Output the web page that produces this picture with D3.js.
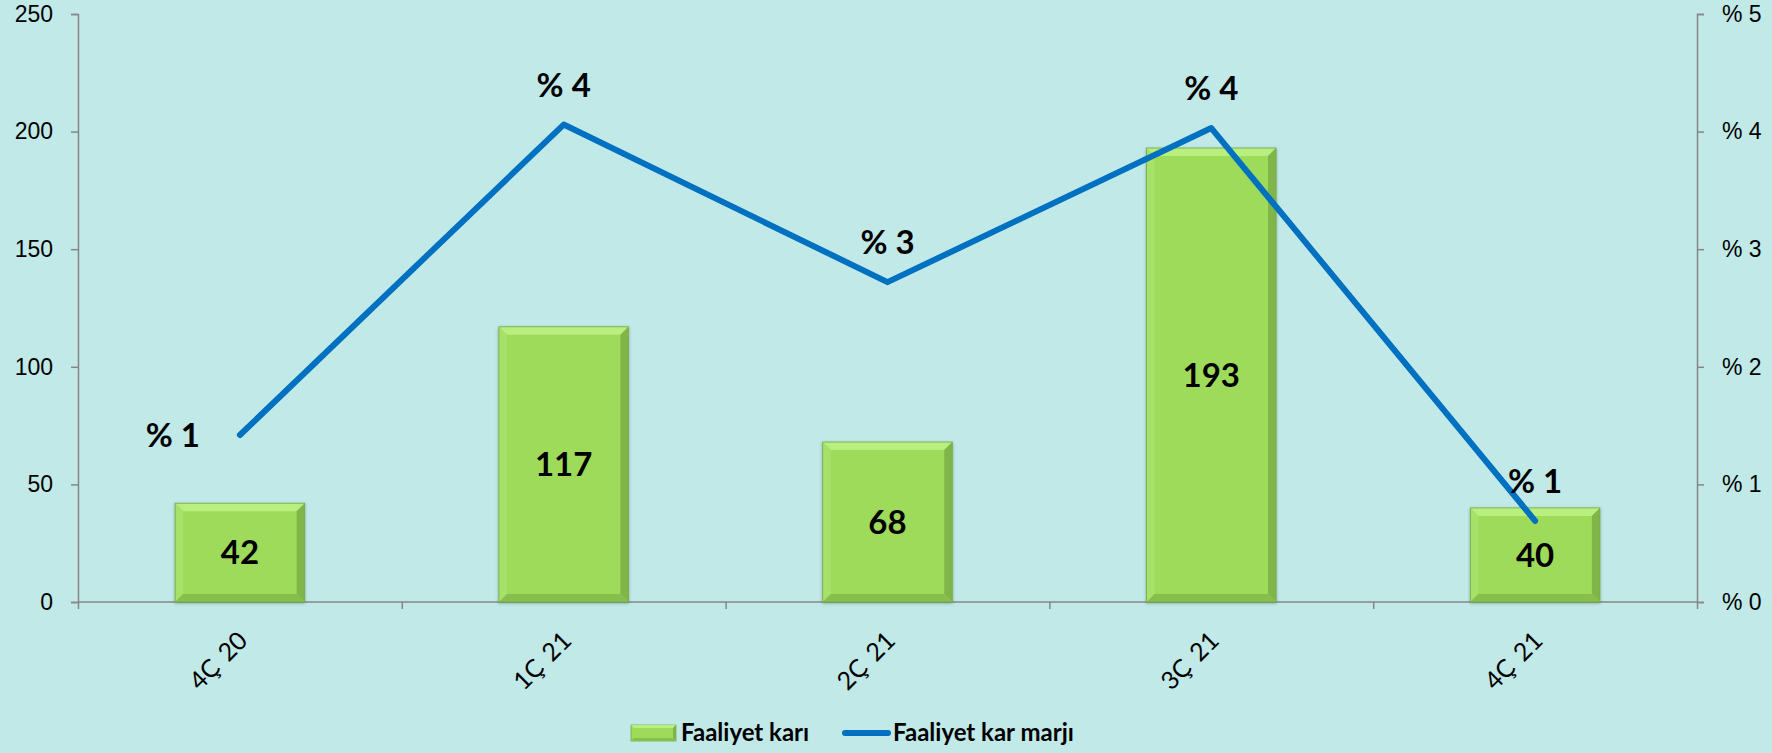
<!DOCTYPE html>
<html>
<head>
<meta charset="utf-8">
<script src="https://cdn.jsdelivr.net/npm/d3@7"></script>
<style>
  html, body { margin: 0; padding: 0; background: #c0e9e8; }
  svg { display: block; font-family: Lato, "Open Sans", sans-serif; }
  .axis path, .axis line { stroke: #868686; stroke-width: 1.5; }
  .axis text { font-size: 23px; fill: #000; }
  .bar-label, .line-label { font-weight: bold; font-size: 33px; fill: #000; }
  .legend text { font-weight: bold; font-size: 24px; fill: #000; }
</style>
</head>
<body>
<svg id="chart" width="1772" height="753"></svg>
<script>
// data
const categories = ["4Ç 20", "1Ç 21", "2Ç 21", "3Ç 21", "4Ç 21"];
const faaliyetKari = [42, 117, 68, 193, 40];
const karMarji = [1.42, 4.06, 2.72, 4.03, 0.69];
const leftTicks = [0, 50, 100, 150, 200, 250];
const rightTicks = [0, 1, 2, 3, 4, 5];
const seriesNames = ["Faaliyet karı", "Faaliyet kar marjı"];

const svg = d3.select("#chart");
const margin = {top: 14, right: 75, left: 78, bottom: 151};
const width = 1772 - margin.left - margin.right;
const height = 753 - margin.top - margin.bottom;
const g = svg.append("g")
    .attr("transform", `translate(${margin.left}, ${margin.top})`);

// scales
const x = d3.scaleBand()
    .domain(categories)
    .range([0, width])
    .paddingInner(0.6)
    .paddingOuter(0.3);
const xEdges = d3.scaleLinear().domain([0, categories.length]).range([0, width]);
const y = d3.scaleLinear().domain([0, 250]).range([height, 0]);
const y2 = d3.scaleLinear().domain([0, 5]).range([height, 0]);

// left axis
const yAxisG = g.append("g").attr("class", "axis")
    .call(d3.axisLeft(y).tickValues(leftTicks).tickSize(7).tickSizeOuter(7).tickPadding(18));
// right axis
const y2AxisG = g.append("g").attr("class", "axis")
    .attr("transform", `translate(${width}, 0)`)
    .call(d3.axisRight(y2).tickValues(rightTicks).tickSize(7).tickSizeOuter(7).tickPadding(18)
        .tickFormat(d => "% " + d));
// x axis, ticks between categories
const xAxisG = g.append("g").attr("class", "axis")
    .attr("transform", `translate(0, ${height})`)
    .call(d3.axisBottom(xEdges).tickValues(d3.range(categories.length + 1)).tickSize(7)
        .tickSizeOuter(0).tickFormat(""));
xAxisG.select(".domain").attr("d", `M0,0H${width}`);

// category labels, rotated
g.append("g").selectAll("text").data(categories)
    .enter().append("text")
    .attr("class", "axis-label")
    .attr("transform", d => `translate(${x(d) + x.bandwidth() / 2 + 3}, ${height + 34}) rotate(-45)`)
    .attr("text-anchor", "end")
    .attr("dy", "0.35em")
    .style("font-size", "25px")
    .style("word-spacing", "3px")
    .text(d => d);

// bars with bevel
const defs = svg.append("defs");
defs.append("filter").attr("id", "shadow")
    .attr("x", "-10%").attr("y", "-10%").attr("width", "120%").attr("height", "120%")
    .append("feDropShadow")
    .attr("dx", 0).attr("dy", 1).attr("stdDeviation", 1.5)
    .attr("flood-color", "#3a5a30").attr("flood-opacity", 0.45);

const bev = 8;
const bars = g.append("g").selectAll("g").data(categories)
    .enter().append("g")
    .attr("filter", "url(#shadow)");
bars.each(function(d, i) {
    const b = d3.select(this);
    const x0 = x(d), x1 = x(d) + x.bandwidth();
    const y0 = y(faaliyetKari[i]), y1 = y(0);
    b.append("rect")
        .attr("x", x0).attr("y", y0)
        .attr("width", x1 - x0).attr("height", y1 - y0)
        .attr("fill", "#9edb5a");
    // top
    b.append("polygon").attr("fill", "#b9ef7f")
        .attr("points", [[x0, y0], [x1, y0], [x1 - bev, y0 + bev], [x0 + bev, y0 + bev]].join(" "));
    // left
    b.append("polygon").attr("fill", "#a6e26a")
        .attr("points", [[x0, y0], [x0 + bev, y0 + bev], [x0 + bev, y1 - bev], [x0, y1]].join(" "));
    // right
    b.append("polygon").attr("fill", "#7fb548")
        .attr("points", [[x1, y0], [x1, y1], [x1 - bev, y1 - bev], [x1 - bev, y0 + bev]].join(" "));
    // bottom
    b.append("polygon").attr("fill", "#86bf4b")
        .attr("points", [[x0, y1], [x0 + bev, y1 - bev], [x1 - bev, y1 - bev], [x1, y1]].join(" "));
    b.append("rect")
        .attr("x", x0).attr("y", y0)
        .attr("width", x1 - x0).attr("height", y1 - y0)
        .attr("fill", "none").attr("stroke", "#79a84a").attr("stroke-width", 0.8);
});

// bar labels
g.append("g").selectAll("text").data(categories)
    .enter().append("text")
    .attr("class", "bar-label")
    .attr("x", d => x(d) + x.bandwidth() / 2)
    .attr("y", (d, i) => (y(faaliyetKari[i]) + y(0)) / 2)
    .attr("text-anchor", "middle")
    .attr("dy", "0.36em")
    .text((d, i) => faaliyetKari[i]);

// margin line
const lineGenerator = d3.line()
    .x((d, i) => x(categories[i]) + x.bandwidth() / 2)
    .y(d => y2(d));
g.append("path")
    .attr("d", lineGenerator(karMarji))
    .attr("fill", "none")
    .attr("stroke", "#0070c0")
    .attr("stroke-width", 6)
    .attr("stroke-linecap", "round")
    .attr("stroke-linejoin", "round");

// line labels (first one sits to the left of its point)
g.append("g").selectAll("text").data(karMarji)
    .enter().append("text")
    .attr("class", "line-label")
    .attr("x", (d, i) => x(categories[i]) + x.bandwidth() / 2 + (i === 0 ? -40 : 0))
    .attr("y", (d, i) => i === 0 ? y2(d) + 12 : y2(d) - 28)
    .attr("text-anchor", (d, i) => i === 0 ? "end" : "middle")
    .text(d => "% " + Math.round(d));

// legend
const legend = svg.append("g").attr("class", "legend")
    .attr("transform", "translate(0, 733)");
const sw = legend.append("g");
const lx0 = 631, lx1 = 676, ly0 = -8, ly1 = 8, lb = 3;
sw.append("rect").attr("x", lx0).attr("y", ly0).attr("width", lx1 - lx0).attr("height", ly1 - ly0)
    .attr("fill", "#9edb5a").attr("stroke", "#79a84a").attr("stroke-width", 0.8);
sw.append("polygon").attr("fill", "#b9ef7f")
    .attr("points", [[lx0, ly0], [lx1, ly0], [lx1 - lb, ly0 + lb], [lx0 + lb, ly0 + lb]].join(" "));
sw.append("polygon").attr("fill", "#7fb548")
    .attr("points", [[lx1, ly0], [lx1, ly1], [lx1 - lb, ly1 - lb], [lx1 - lb, ly0 + lb]].join(" "));
sw.append("polygon").attr("fill", "#86bf4b")
    .attr("points", [[lx0, ly1], [lx0 + lb, ly1 - lb], [lx1 - lb, ly1 - lb], [lx1, ly1]].join(" "));
legend.append("text").attr("x", 681).attr("dy", "0.35em").text(seriesNames[0]);
legend.append("line").attr("x1", 845).attr("x2", 888).attr("y1", 0).attr("y2", 0)
    .attr("stroke", "#0070c0").attr("stroke-width", 6).attr("stroke-linecap", "round");
legend.append("text").attr("x", 893).attr("dy", "0.35em").text(seriesNames[1]);
</script>
</body>
</html>
